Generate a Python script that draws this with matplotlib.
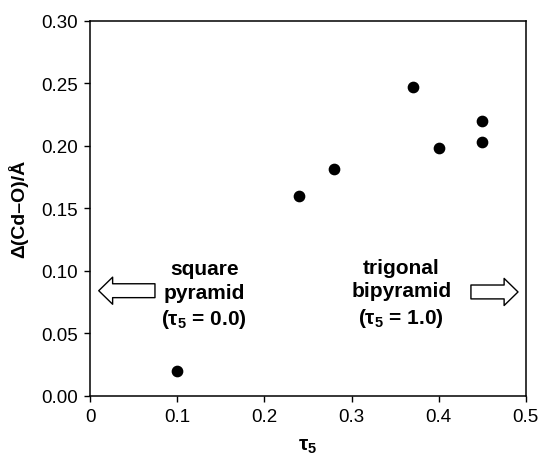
import matplotlib
matplotlib.use("Agg")
import matplotlib.pyplot as plt

plt.rcParams['font.family'] = ['Liberation Sans', 'DejaVu Sans']
plt.rcParams['mathtext.fontset'] = 'custom'
plt.rcParams['mathtext.rm'] = 'Liberation Sans:bold'
plt.rcParams['mathtext.default'] = 'rm'

# dados
tau5 = [0.10, 0.24, 0.28, 0.37, 0.40, 0.45, 0.45]
delta_cdo = [0.020, 0.160, 0.181, 0.247, 0.198, 0.220, 0.203]

x_ticks = [0, 0.1, 0.2, 0.3, 0.4, 0.5]
x_ticklabels = ['0', '0.1', '0.2', '0.3', '0.4', '0.5']
y_ticks = [0.00, 0.05, 0.10, 0.15, 0.20, 0.25, 0.30]
y_ticklabels = ['0.00', '0.05', '0.10', '0.15', '0.20', '0.25', '0.30']

fig = plt.figure(figsize=(5.41, 4.60), dpi=100)
ax = fig.add_axes([0.1664, 0.1376, 0.8056, 0.8152])

ax.scatter(tau5, delta_cdo, s=55, color='black', zorder=3)

ax.set_xlim(0, 0.5)
ax.set_ylim(0, 0.30)
ax.set_xticks(x_ticks)
ax.set_xticklabels(x_ticklabels)
ax.set_yticks(y_ticks)
ax.set_yticklabels(y_ticklabels)
ax.tick_params(direction='out', length=4, width=1, labelsize=13.5, pad=5)
for s in ax.spines.values():
    s.set_linewidth(1.1)

ax.set_xlabel(r'τ$_5$', fontsize=15, fontweight='bold', labelpad=8)
ax.set_ylabel('Δ(Cd–O)/Å', fontsize=14, fontweight='bold', labelpad=9)

# setas brancas
arrow_style = 'simple,head_length=1.0,head_width=1.95,tail_width=1.0'
ax.annotate('', xy=(0.010, 0.084), xytext=(0.0745, 0.084),
            arrowprops=dict(arrowstyle=arrow_style, fc='white', ec='black',
                            lw=1, mutation_scale=10, shrinkA=0, shrinkB=0))
ax.annotate('', xy=(0.491, 0.083), xytext=(0.437, 0.083),
            arrowprops=dict(arrowstyle=arrow_style, fc='white', ec='black',
                            lw=1, mutation_scale=10, shrinkA=0, shrinkB=0))

ax.text(0.131, 0.081, 'square\npyramid\n' + r'(τ$_5$ = 0.0)', ha='center', va='center',
        fontsize=15, fontweight='bold', linespacing=1.3)
ax.text(0.357, 0.082, 'trigonal\nbipyramid\n' + r'(τ$_5$ = 1.0)', ha='center', va='center',
        fontsize=15, fontweight='bold', linespacing=1.3)

fig.savefig('out.png', dpi=100)
